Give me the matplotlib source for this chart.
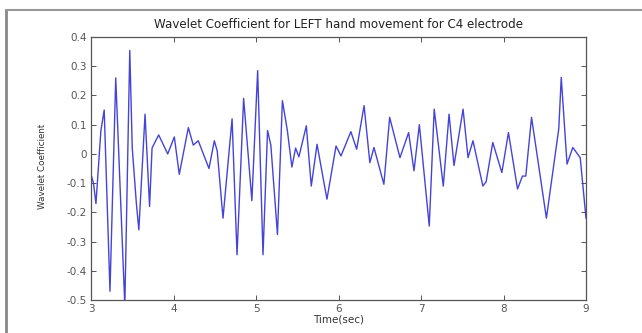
import matplotlib
matplotlib.use("Agg")
import matplotlib.pyplot as plt
from matplotlib.lines import Line2D

# ---- data ----
time_sec = [3.00, 3.03, 3.06, 3.12, 3.16, 3.23, 3.30, 3.41, 3.47, 3.50, 3.55, 3.58,
            3.655, 3.71, 3.74, 3.82, 3.93, 4.01, 4.07, 4.18, 4.24, 4.30, 4.43,
            4.495, 4.53, 4.60, 4.71, 4.77, 4.85, 4.95, 5.02, 5.085, 5.14, 5.18,
            5.26, 5.32, 5.38, 5.435, 5.48, 5.52, 5.61, 5.67, 5.74, 5.78, 5.86,
            5.97, 6.03, 6.15, 6.22, 6.31, 6.38, 6.43, 6.55, 6.62, 6.745, 6.85,
            6.915, 6.98, 7.10, 7.16, 7.27, 7.34, 7.40, 7.51, 7.57, 7.63, 7.75,
            7.79, 7.87, 7.98, 8.06, 8.17, 8.23, 8.27, 8.34, 8.52, 8.67, 8.70,
            8.77, 8.84, 8.93, 9.00]
coefficient = [-0.07, -0.10, -0.17, 0.08, 0.15, -0.47, 0.26, -0.52, 0.354, 0.02, -0.17, -0.26,
               0.136, -0.18, 0.02, 0.065, 0.0, 0.058, -0.07, 0.09, 0.03, 0.045, -0.05,
               0.045, 0.01, -0.22, 0.12, -0.345, 0.19, -0.16, 0.285, -0.345, 0.08, 0.03,
               -0.276, 0.182, 0.08, -0.045, 0.02, -0.01, 0.096, -0.11, 0.033, -0.03, -0.155,
               0.027, -0.007, 0.076, 0.016, 0.165, -0.03, 0.022, -0.104, 0.125, -0.013, 0.073,
               -0.058, 0.10, -0.247, 0.153, -0.11, 0.136, -0.04, 0.153, -0.013, 0.045, -0.11,
               -0.095, 0.039, -0.064, 0.073, -0.12, -0.076, -0.076, 0.125, -0.22, 0.086, 0.262,
               -0.035, 0.022, -0.013, -0.22]

x_ticks = [3, 4, 5, 6, 7, 8, 9]
x_tick_labels = ["3", "4", "5", "6", "7", "8", "9"]
y_ticks = [-0.5, -0.4, -0.3, -0.2, -0.1, 0.0, 0.1, 0.2, 0.3, 0.4]
y_tick_labels = ["-0.5", "-0.4", "-0.3", "-0.2", "-0.1", "0", "0.1", "0.2", "0.3", "0.4"]

title = "Wavelet Coefficient for LEFT hand movement for C4 electrode"
x_label = "Time(sec)"
y_label = "Wavelet Coefficient"

# ---- figure ----
W, H = 642, 333
fig = plt.figure(figsize=(W / 100, H / 100), dpi=100)
fig.patch.set_facecolor("white")

left, right, top, bottom = 91, 586, 37, 300
ax = fig.add_axes([left / W, 1 - bottom / H, (right - left) / W, (bottom - top) / H])

ax.plot(time_sec, coefficient, color="#2f2fd6", lw=1.0, alpha=0.9,
        solid_joinstyle="round")

ax.set_xlim(3, 9)
ax.set_ylim(-0.5, 0.4)
ax.set_xticks(x_ticks)
ax.set_xticklabels(x_tick_labels)
ax.set_yticks(y_ticks)
ax.set_yticklabels(y_tick_labels)

ax.tick_params(direction="in", length=3.5, width=0.7, top=True, right=True,
               labelsize=7.5, colors="#555555", pad=3)
for sp in ax.spines.values():
    sp.set_color("#555555")
    sp.set_linewidth(0.9)

fig.text((left + right) / 2 / W, 1 - 24 / H, title, ha="center", va="center",
         fontsize=8.6, color="#222222")
fig.text((left + right) / 2 / W, 1 - 320 / H, x_label, ha="center", va="center",
         fontsize=7.5, color="#333333")
fig.text(43 / W, 1 - 166 / H, y_label, ha="center", va="center", rotation=90,
         fontsize=6.3, color="#333333")

# outer frame (left and top gray lines)
fig.add_artist(Line2D([6 / W, 6 / W], [0, 1 - 10 / H], color="#888888", lw=2.0))
fig.add_artist(Line2D([6 / W, 1], [1 - 10 / H, 1 - 10 / H], color="#999999", lw=1.5))

fig.savefig("out.png", dpi=100)
